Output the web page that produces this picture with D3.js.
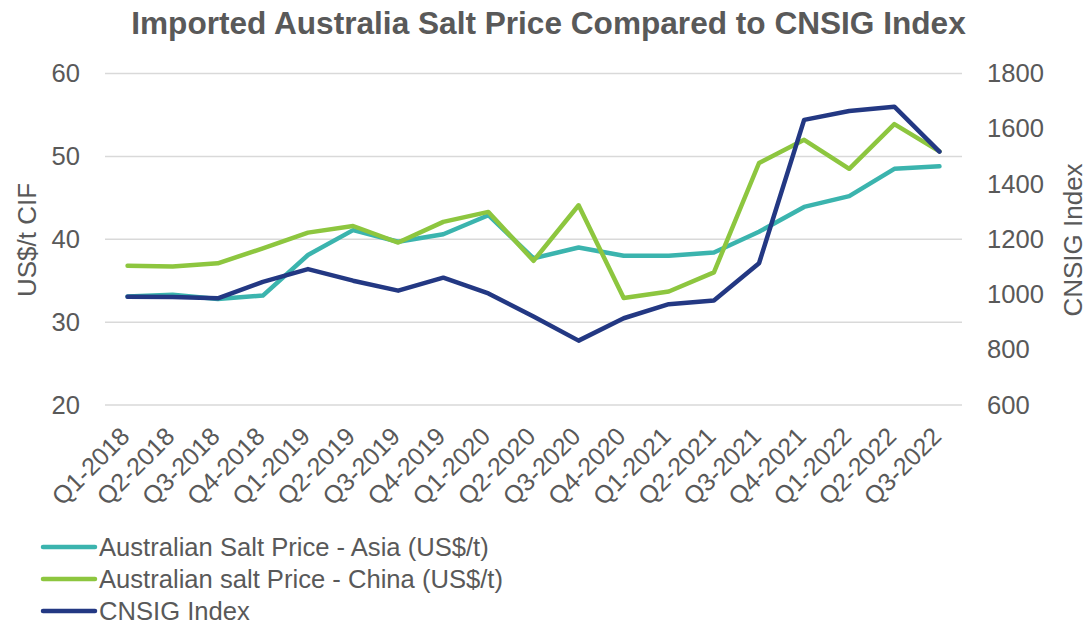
<!DOCTYPE html>
<html>
<head>
<meta charset="utf-8">
<script src="https://cdn.jsdelivr.net/npm/d3@7"></script>
<style>
  body { margin: 0; background: #fff; }
  svg { display: block; font-family: "Liberation Sans", Arial, sans-serif; }
</style>
</head>
<body>
<div id="chart"></div>
<script>
// quarters on the x axis
var quarters = ["Q1-2018", "Q2-2018", "Q3-2018", "Q4-2018", "Q1-2019", "Q2-2019", "Q3-2019", "Q4-2019",
  "Q1-2020", "Q2-2020", "Q3-2020", "Q4-2020", "Q1-2021", "Q2-2021", "Q3-2021", "Q4-2021",
  "Q1-2022", "Q2-2022", "Q3-2022"];

// US$/t, left axis
var asiaPrice = [33.1, 33.3, 32.8, 33.2, 38.1, 41.1, 39.7, 40.6, 42.9, 37.7, 39.0, 38.0, 38.0, 38.4, 40.9, 43.9, 45.2, 48.5, 48.8];
var chinaPrice = [36.8, 36.7, 37.1, 38.9, 40.8, 41.6, 39.6, 42.1, 43.3, 37.4, 44.1, 32.9, 33.7, 36.0, 49.2, 52.0, 48.5, 53.9, 50.6];
// right axis
var cnsigIndex = [992, 991, 986, 1046, 1092, 1050, 1014, 1061, 1004, 920, 833, 914, 965, 978, 1113, 1632, 1664, 1680, 1517];

var leftTicks = [20, 30, 40, 50, 60];
var rightTicks = [600, 800, 1000, 1200, 1400, 1600, 1800];

var seriesNames = ["Australian Salt Price - Asia (US$/t)", "Australian salt Price - China (US$/t)", "CNSIG Index"];
var seriesColors = ["#3bb4ae", "#8dc63f", "#233883"];

var width = 1089, height = 624;
var plotLeft = 105, plotRight = 962, plotTop = 73.5, plotBottom = 405;
var textColor = "#595959";

var svg = d3.select("#chart").append("svg")
  .attr("width", width)
  .attr("height", height);

svg.append("rect").attr("width", width).attr("height", height).attr("fill", "#fff");

var x = d3.scalePoint().domain(quarters).range([plotLeft, plotRight]).padding(0.5);
var yLeft = d3.scaleLinear().domain([20, 60]).range([plotBottom, plotTop]);
var yRight = d3.scaleLinear().domain([600, 1800]).range([plotBottom, plotTop]);

// gridlines
svg.append("g").selectAll("line")
  .data(leftTicks)
  .enter().append("line")
  .attr("x1", plotLeft).attr("x2", plotRight)
  .attr("y1", function (d) { return yLeft(d); })
  .attr("y2", function (d) { return yLeft(d); })
  .attr("stroke", "#d9d9d9")
  .attr("stroke-width", 1.5);

// axes (labels only)
var gLeft = svg.append("g")
  .attr("transform", "translate(" + plotLeft + ",0)")
  .call(d3.axisLeft(yLeft).tickValues(leftTicks).tickSize(0).tickPadding(25));

var gRight = svg.append("g")
  .attr("transform", "translate(" + plotRight + ",0)")
  .call(d3.axisRight(yRight).tickValues(rightTicks).tickFormat(d3.format("d")).tickSize(0).tickPadding(25));

var gBottom = svg.append("g")
  .attr("transform", "translate(0," + plotBottom + ")")
  .call(d3.axisBottom(x).tickSize(0));

[gLeft, gRight, gBottom].forEach(function (g) {
  g.select(".domain").remove();
  g.selectAll("text")
    .attr("fill", textColor)
    .style("font-size", "25.6px")
    .style("font-family", "'Liberation Sans', Arial, sans-serif");
});

gBottom.selectAll("text")
  .attr("x", 0).attr("y", 0).attr("dy", 0)
  .attr("text-anchor", "end")
  .attr("transform", "translate(3,33) rotate(-45)")
  .style("font-size", "25px");

// title
svg.append("text")
  .attr("x", 548.5).attr("y", 34.3)
  .attr("text-anchor", "middle")
  .attr("fill", textColor)
  .style("font-size", "31.6px")
  .style("font-weight", "bold")
  .text("Imported Australia Salt Price Compared to CNSIG Index");

// axis titles
svg.append("text")
  .attr("transform", "translate(36,240) rotate(-90)")
  .attr("text-anchor", "middle")
  .attr("fill", textColor)
  .style("font-size", "26px")
  .text("US$/t CIF");

svg.append("text")
  .attr("transform", "translate(1081.5,240) rotate(-90)")
  .attr("text-anchor", "middle")
  .attr("fill", textColor)
  .style("font-size", "26px")
  .text("CNSIG Index");

// lines
var lineLeft = d3.line()
  .x(function (d, i) { return x(quarters[i]); })
  .y(function (d) { return yLeft(d); });

var lineRight = d3.line()
  .x(function (d, i) { return x(quarters[i]); })
  .y(function (d) { return yRight(d); });

var series = [
  { values: asiaPrice, line: lineLeft },
  { values: chinaPrice, line: lineLeft },
  { values: cnsigIndex, line: lineRight }
];

svg.append("g").selectAll("path")
  .data(series)
  .enter().append("path")
  .attr("d", function (s) { return s.line(s.values); })
  .attr("fill", "none")
  .attr("stroke", function (s, i) { return seriesColors[i]; })
  .attr("stroke-width", 4.5)
  .attr("stroke-linejoin", "round")
  .attr("stroke-linecap", "round");

// legend
var legend = svg.append("g").selectAll("g")
  .data(seriesNames)
  .enter().append("g")
  .attr("transform", function (d, i) { return "translate(0," + (547 + i * 32) + ")"; });

legend.append("line")
  .attr("x1", 43).attr("x2", 95)
  .attr("stroke", function (d, i) { return seriesColors[i]; })
  .attr("stroke-width", 4.5)
  .attr("stroke-linecap", "round");

legend.append("text")
  .attr("x", 99).attr("y", 9.2)
  .attr("fill", textColor)
  .style("font-size", "25.6px")
  .text(function (d) { return d; });
</script>
</body>
</html>
